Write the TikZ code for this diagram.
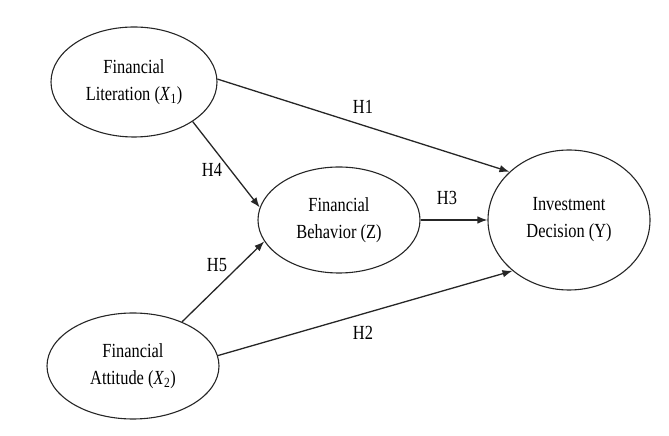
\documentclass[tikz,border=0pt]{standalone}
\usepackage{fontspec}
\setmainfont{Liberation Serif}[FakeStretch=0.82]
\usetikzlibrary{shapes.geometric,arrows.meta}
\begin{document}
\begin{tikzpicture}[x=1pt,y=1pt,
  var/.style={draw=black!85,line width=1.1pt,ellipse,inner sep=0pt,align=center,
    font=\fontsize{20}{27}\selectfont},
  link/.style={draw=black!85,line width=1.3pt,-{Latex[length=10pt,width=7.5pt]}},
  hyp/.style={font=\fontsize{20}{24}\selectfont}]
\useasboundingbox (0,0) rectangle (669,436);
\node[var,minimum width=166pt,minimum height=110pt] (X1) at (134,354) {Financial\\Literation (\textit{X}\textsubscript{1})};
\node[var,minimum width=172pt,minimum height=106pt] (X2) at (133,70) {Financial\\Attitude (\textit{X}\textsubscript{2})};
\node[var,minimum width=162pt,minimum height=106pt] (Z) at (339,216) {Financial\\Behavior (Z)};
\node[var,minimum width=162pt,minimum height=140pt] (Y) at (569,216) {Investment\\Decision (Y)};
\draw[link] (X1.2) -- (Y.141);
\draw[link] (X1.-34) -- (Z.171);
\draw[link] (X2.42) -- (Z.196);
\draw[link] (X2.7) -- (Y.222);
\draw[link] (Z.east) -- (Y.west);
\node[hyp] (h1) at (363,329) {H1};
\node[hyp] (h2) at (363,103) {H2};
\node[hyp] (h3) at (447,238) {H3};
\node[hyp] (h4) at (212,266) {H4};
\node[hyp] (h5) at (217,171) {H5};
\end{tikzpicture}
\end{document}
